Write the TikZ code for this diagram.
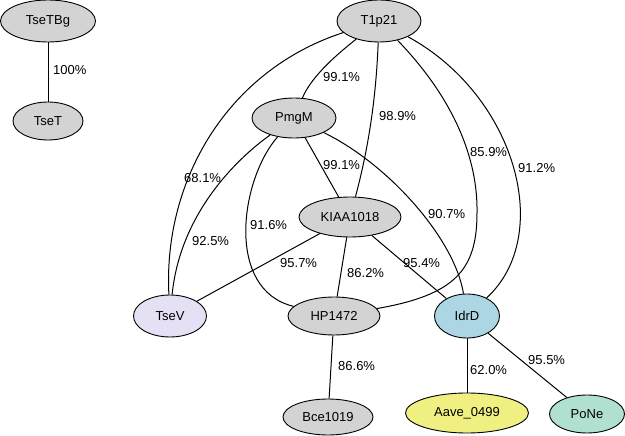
\documentclass[tikz,border=0pt]{standalone}
\usepackage{fontspec}
\setmainfont{Liberation Sans}
\usetikzlibrary{shapes.geometric}
\definecolor{nodegray}{RGB}{211,211,211}
\definecolor{lavender}{RGB}{230,224,245}
\definecolor{lblue}{RGB}{173,214,228}
\definecolor{lyellow}{RGB}{240,240,130}
\definecolor{mint}{RGB}{176,224,208}
\begin{document}
\begin{tikzpicture}[x=1pt,y=-1pt,
  nd/.style={ellipse, draw=black, line width=0.9pt, fill=nodegray, inner sep=0pt, font=\fontsize{13}{15}\selectfont},
  lbl/.style={anchor=west, inner sep=0pt, font=\fontsize{13}{15}\selectfont},
  edge/.style={draw=black, line width=1pt}]
\useasboundingbox (0,0) rectangle (625,436);
% nodes
\node[nd, minimum width=95pt, minimum height=42pt] (TseTBg) at (48,21) {TseTBg};
\node[nd, minimum width=70pt, minimum height=38pt] (TseT) at (48,121) {TseT};
\node[nd, minimum width=84pt, minimum height=42pt] (T1p21) at (379,21) {T1p21};
\node[nd, minimum width=84pt, minimum height=40pt] (PmgM) at (294,118) {PmgM};
\node[nd, minimum width=102pt, minimum height=40pt] (KIAA) at (350,217) {KIAA1018};
\node[nd, fill=lavender, minimum width=73pt, minimum height=42pt] (TseV) at (170,316) {TseV};
\node[nd, minimum width=92pt, minimum height=38pt] (HP) at (334,316) {HP1472};
\node[nd, fill=lblue, minimum width=65pt, minimum height=44pt] (IdrD) at (467,316) {IdrD};
\node[nd, minimum width=90pt, minimum height=36pt] (Bce) at (328,417) {Bce1019};
\node[nd, fill=lyellow, minimum width=123pt, minimum height=40pt] (Aave) at (467,413) {Aave\_0499};
\node[nd, fill=mint, minimum width=75pt, minimum height=38pt] (PoNe) at (587,414) {PoNe};
% edges
\draw[edge] (TseTBg) -- (TseT);
\draw[edge] (T1p21) .. controls (340,52) and (312,75) .. (PmgM);
\draw[edge] (T1p21) .. controls (376,100) and (368,150) .. (KIAA);
\draw[edge] (T1p21) .. controls (228,70) and (163,180) .. (TseV);
\draw[edge] (PmgM) .. controls (235,160) and (180,215) .. (TseV);
\draw[edge] (PmgM) .. controls (240,180) and (225,290) .. (HP);
\draw[edge] (PmgM) -- (KIAA);
\draw[edge] (PmgM) .. controls (390,165) and (455,240) .. (IdrD);
\draw[edge] (T1p21) .. controls (455,100) and (478,160) .. (477,213) .. controls (477,270) and (455,295) .. (HP);
\draw[edge] (T1p21) .. controls (515,95) and (555,235) .. (IdrD);
\draw[edge] (KIAA) -- (TseV);
\draw[edge] (KIAA) -- (HP);
\draw[edge] (KIAA) -- (IdrD);
\draw[edge] (HP) -- (Bce);
\draw[edge] (IdrD) -- (Aave);
\draw[edge] (IdrD) -- (PoNe);
% labels
\node[lbl] (l1) at (53,70) {100\%};
\node[lbl] (l2) at (323,77) {99.1\%};
\node[lbl] (l3) at (379,116) {98.9\%};
\node[lbl] (l4) at (184,178) {68.1\%};
\node[lbl] (l5) at (192,241) {92.5\%};
\node[lbl] (l6) at (250,225) {91.6\%};
\node[lbl] (l7) at (323,165) {99.1\%};
\node[lbl] (l8) at (428,214) {90.7\%};
\node[lbl] (l9) at (470,152) {85.9\%};
\node[lbl] (l10) at (518,168) {91.2\%};
\node[lbl] (l11) at (280,263) {95.7\%};
\node[lbl] (l12) at (347,273) {86.2\%};
\node[lbl] (l13) at (403,263) {95.4\%};
\node[lbl] (l14) at (338,366) {86.6\%};
\node[lbl] (l15) at (470,370) {62.0\%};
\node[lbl] (l16) at (528,360) {95.5\%};
\end{tikzpicture}
\end{document}
